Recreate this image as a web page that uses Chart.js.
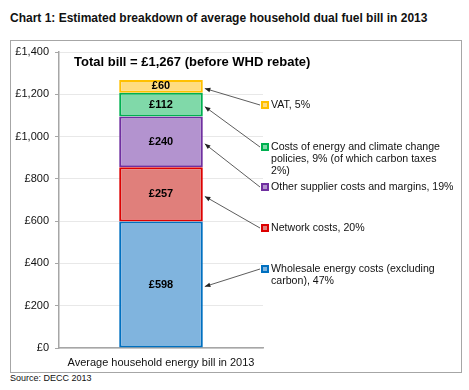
<!DOCTYPE html>
<html>
<head>
<meta charset="utf-8">
<script src="https://cdn.jsdelivr.net/npm/chart.js@4"></script>
<style>
  html, body { margin: 0; padding: 0; background: #fff; }
  body { width: 469px; height: 390px; position: relative; overflow: hidden;
         font-family: 'Liberation Sans', Arial, sans-serif; color: #111; }
  #title { position: absolute; left: 10px; top: 11px; font-size: 12px; font-weight: bold; white-space: nowrap; }
  #frame { position: absolute; left: 10px; top: 40px; width: 450px; height: 331px; border: 1.5px solid #a6a6a6; }
  #source { position: absolute; left: 10px; top: 373px; font-size: 9px; white-space: nowrap; }
  #chart { position: absolute; left: 0; top: 0; }
</style>
</head>
<body>
<div id="title">Chart 1: Estimated breakdown of average household dual fuel bill in 2013</div>
<div id="frame"></div>
<div id="source">Source: DECC 2013</div>
<canvas id="chart" width="469" height="390"></canvas>
<script>
// ---- data (bottom segment first) ----
const categories = ['Average household energy bill in 2013'];
const components = ['Wholesale energy costs', 'Network costs', 'Other supplier costs and margins',
                    'Costs of energy and climate change policies', 'VAT'];
const values = [598, 257, 240, 112, 60];
const calloutText = [
  ['Wholesale energy costs (excluding', 'carbon), 47%'],
  ['Network costs, 20%'],
  ['Other supplier costs and margins, 19%'],
  ['Costs of energy and climate change', 'policies, 9% (of which carbon taxes', '2%)'],
  ['VAT, 5%'],
];
const yTicks = [0, 200, 400, 600, 800, 1000, 1200, 1400];
const totalLabel = 'Total bill = £1,267 (before WHD rebate)';

// ---- styling ----
const FILL   = ['#80b4de', '#e07f7b', '#b393cf', '#80d9a9', '#ffdc80'];
const BORDER = ['#0070c0', '#dd0000', '#7030a0', '#00b050', '#ffc000'];
const CALLOUT_Y = [269, 228, 187, 147, 105];   // first text line of each callout
const FONT = "'Liberation Sans', Arial, sans-serif";

const callouts = {
  id: 'callouts',
  afterDatasetsDraw(chart) {
    const ctx = chart.ctx;
    const area = chart.chartArea;
    ctx.save();

    // headline inside plot
    ctx.fillStyle = '#000';
    ctx.font = `bold 13px ${FONT}`;
    ctx.textAlign = 'left';
    ctx.textBaseline = 'middle';
    ctx.fillText(totalLabel, area.left + 15, 62);

    chart.data.datasets.forEach((ds, i) => {
      const el = chart.getDatasetMeta(i).data[0];
      const mid = (el.y + el.base) / 2;

      // value in segment
      ctx.fillStyle = '#000';
      ctx.font = `bold 11px ${FONT}`;
      ctx.textAlign = 'center';
      ctx.fillText('£' + values[i], el.x, mid);

      // marker + text
      const ly = CALLOUT_Y[i];
      const mx = 261;
      ctx.fillStyle = BORDER[i];
      ctx.fillRect(mx, ly - 4, 8, 8);
      ctx.fillStyle = FILL[i];
      ctx.fillRect(mx + 2, ly - 2, 4, 4);
      ctx.fillStyle = '#111';
      ctx.font = `10.6px ${FONT}`;
      ctx.textAlign = 'left';
      calloutText[i].forEach((t, k) => ctx.fillText(t, 271, ly + k * 12));

      // arrow
      const tx = el.x + el.width / 2 + 2, ty = mid + 2;
      const sx = mx - 1, sy = ly;
      ctx.strokeStyle = '#333';
      ctx.lineWidth = 0.8;
      ctx.beginPath();
      ctx.moveTo(sx, sy);
      ctx.lineTo(tx, ty);
      ctx.stroke();
      const ang = Math.atan2(ty - sy, tx - sx);
      ctx.fillStyle = '#222';
      ctx.beginPath();
      ctx.moveTo(tx, ty);
      ctx.lineTo(tx - 6 * Math.cos(ang - 0.4), ty - 6 * Math.sin(ang - 0.4));
      ctx.lineTo(tx - 6 * Math.cos(ang + 0.4), ty - 6 * Math.sin(ang + 0.4));
      ctx.closePath();
      ctx.fill();
    });
    ctx.restore();
  }
};

new Chart(document.getElementById('chart'), {
  type: 'bar',
  data: {
    labels: categories,
    datasets: components.map((name, i) => ({
      label: name,
      data: [values[i]],
      backgroundColor: FILL[i],
      borderColor: BORDER[i],
      borderWidth: 2,
      borderSkipped: false,
      barPercentage: 0.41,
      categoryPercentage: 1,
    }))
  },
  options: {
    responsive: false,
    animation: false,
    layout: { padding: { left: 0, right: 206, top: 52, bottom: 0 } },
    plugins: { legend: { display: false }, tooltip: { enabled: false } },
    scales: {
      x: {
        stacked: true,
        grid: { display: false },
        border: { color: '#a6a6a6', width: 1.5 },
        ticks: { color: '#111', font: { family: FONT, size: 11 }, padding: 0 },
        afterFit: (s) => { s.height = 42; },
      },
      y: {
        stacked: true,
        min: 0, max: 1400,
        afterBuildTicks: (s) => { s.ticks = yTicks.map(v => ({ value: v })); },
        grid: { color: '#e8e8e8', tickLength: 4, tickColor: '#a6a6a6' },
        border: { color: '#a6a6a6', width: 1.5 },
        ticks: {
          color: '#111', font: { family: FONT, size: 11 }, padding: 6,
          callback: (v) => '£' + v.toLocaleString('en-GB'),
        },
        afterFit: (s) => { s.width = 59; },
      }
    }
  },
  plugins: [callouts]
});
</script>
</body>
</html>
